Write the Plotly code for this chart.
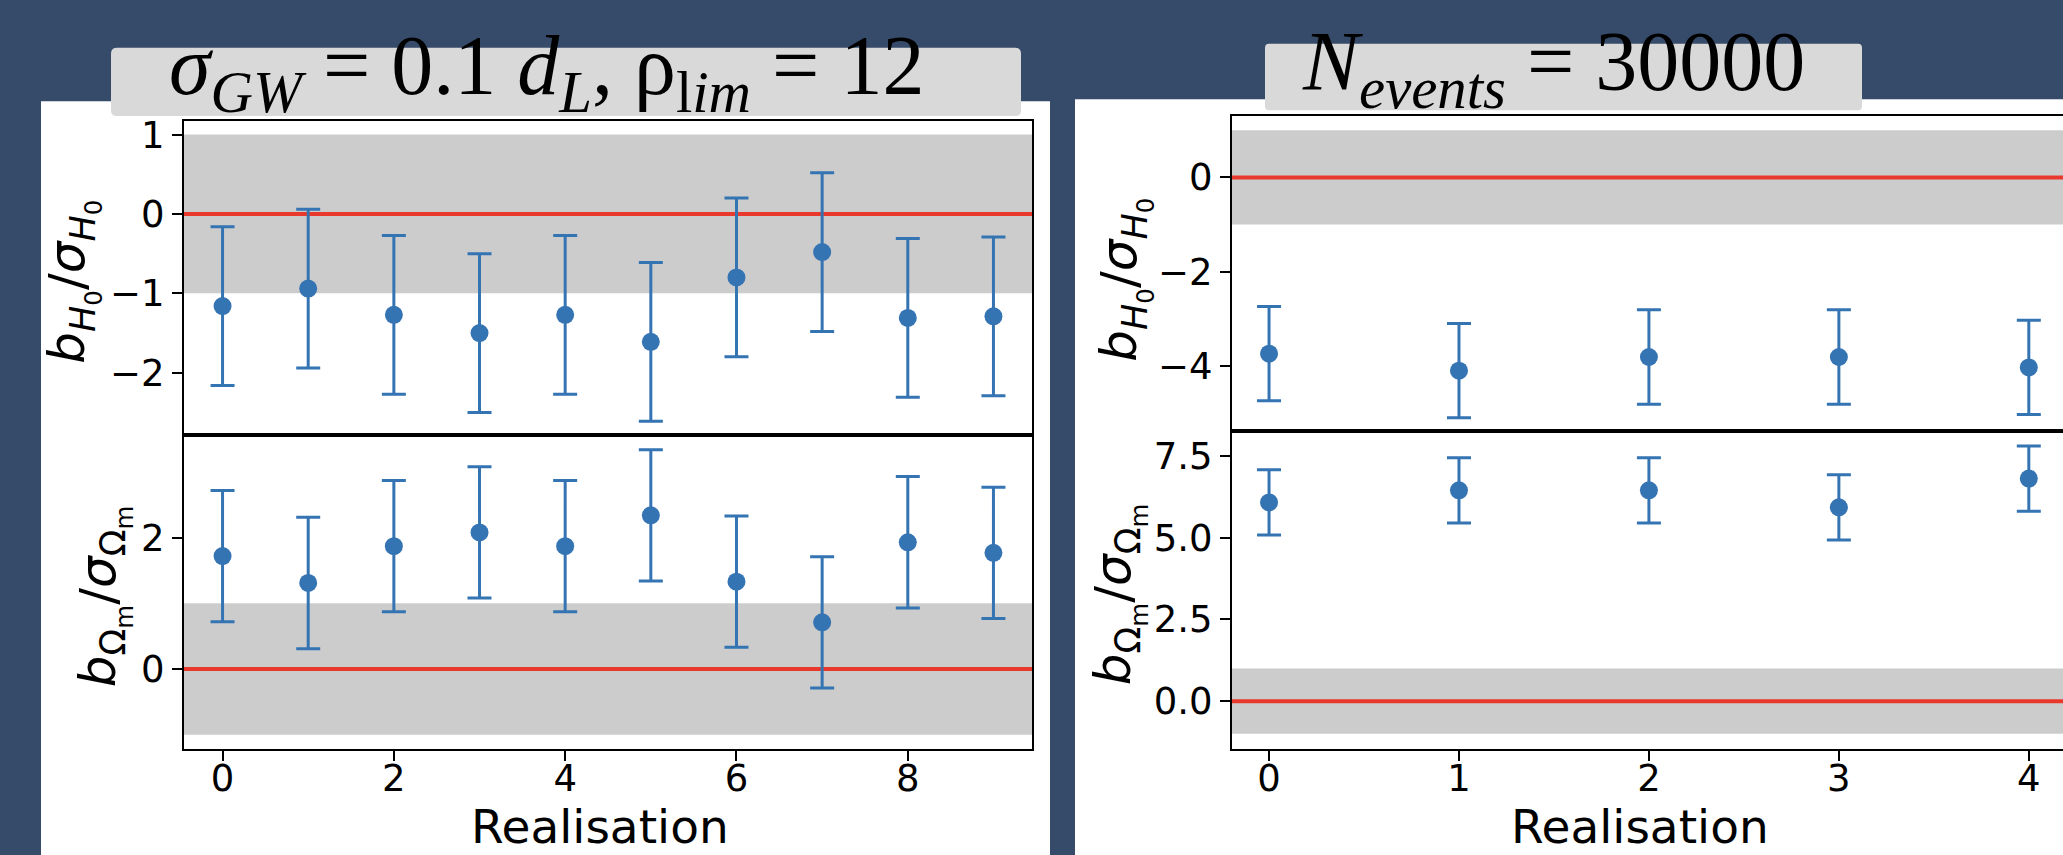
import plotly.graph_objects as go

# ---------------- data ----------------
realisation_left = [0, 1, 2, 3, 4, 5, 6, 7, 8, 9]
bH0_left = [-1.16, -0.94, -1.27, -1.50, -1.27, -1.61, -0.80, -0.48, -1.31, -1.29]
bH0_left_err = [1.0, 1.0, 1.0, 1.0, 1.0, 1.0, 1.0, 1.0, 1.0, 1.0]
bOm_left = [1.72, 1.31, 1.87, 2.08, 1.87, 2.34, 1.33, 0.71, 1.93, 1.77]
bOm_left_err = [1.0, 1.0, 1.0, 1.0, 1.0, 1.0, 1.0, 1.0, 1.0, 1.0]

realisation_right = [0, 1, 2, 3, 4]
bH0_right = [-3.74, -4.10, -3.81, -3.81, -4.03]
bH0_right_err = [1.0, 1.0, 1.0, 1.0, 1.0]
bOm_right = [6.08, 6.45, 6.45, 5.93, 6.81]
bOm_right_err = [1.0, 1.0, 1.0, 1.0, 1.0]

band_low, band_high = -1, 1
ref_value = 0

left_title = "<i>σ</i><sub><i>GW</i></sub> = 0.1 <i>d</i><sub><i>L</i></sub>, ρ<sub>l<i>im</i></sub> = 12"
right_title = "<i>N</i><sub><i>events</i></sub> = 30000"
xlabel = "Realisation"
ylabel_H0 = "<i>b</i><sub><i>H</i><sub>0</sub></sub>/<i>σ</i><sub><i>H</i><sub>0</sub></sub>"
ylabel_Om = "<i>b</i><sub>Ω<sub>m</sub></sub>/<i>σ</i><sub>Ω<sub>m</sub></sub>"

# ---------------- style ----------------
W, H = 2063, 855
NAVY = "#364A6A"
BLUE = "#3574B3"
RED = "#E8392C"
GRAY = "#CCCCCC"
BOX = "#D9D9D9"
TICKFONT = dict(family="DejaVu Sans", size=37, color="black")


def px(x):
    return x / W


def py(y):
    return 1 - y / H


fig = go.Figure()

panels = [
    ("x", "y", realisation_left, bH0_left, bH0_left_err),
    ("x2", "y2", realisation_left, bOm_left, bOm_left_err),
    ("x3", "y3", realisation_right, bH0_right, bH0_right_err),
    ("x4", "y4", realisation_right, bOm_right, bOm_right_err),
]
for xa, ya, xs, ys, es in panels:
    fig.add_trace(go.Scatter(
        x=xs, y=ys, xaxis=xa, yaxis=ya, mode="markers",
        marker=dict(color=BLUE, size=18),
        error_y=dict(type="data", array=es, visible=True, color=BLUE,
                     thickness=3, width=12),
        showlegend=False, cliponaxis=False,
    ))

common_axis = dict(showline=True, linecolor="black", linewidth=2,
                   ticks="outside", ticklen=10, tickwidth=2, tickcolor="black",
                   showgrid=False, zeroline=False, tickfont=TICKFONT)

Lx = [px(184), px(1032)]
Rx = [px(1232), 1.0]
LTy = [py(432), py(115)]
LBy = [py(748), py(432)]
RTy = [py(428), py(110)]
RBy = [py(748), py(428)]

fig.update_layout(
    width=W, height=H,
    margin=dict(l=0, r=0, t=0, b=0),
    paper_bgcolor=NAVY, plot_bgcolor="white",
    xaxis=dict(domain=Lx, range=[-0.45, 9.45], anchor="y",
               showticklabels=False, mirror=True, **{**common_axis, "ticks": ""}),
    yaxis=dict(domain=LTy, range=[-2.79, 1.17], anchor="x", mirror=True,
               tickvals=[-2, -1, 0, 1], **common_axis),
    xaxis2=dict(domain=Lx, range=[-0.45, 9.45], anchor="y2", mirror=True,
                tickvals=[0, 2, 4, 6, 8], ticklabelstandoff=-14, **common_axis),
    yaxis2=dict(domain=LBy, range=[-1.217, 3.557], anchor="x2", mirror=True,
                tickvals=[0, 2], **common_axis),
    xaxis3=dict(domain=Rx, range=[-0.195, 4.18], anchor="y3",
                showticklabels=False, mirror=True, **{**common_axis, "ticks": ""}),
    yaxis3=dict(domain=RTy, range=[-5.39, 1.30], anchor="x3",
                tickvals=[-4, -2, 0], **common_axis),
    xaxis4=dict(domain=Rx, range=[-0.195, 4.18], anchor="y4", mirror=True,
                tickvals=[0, 1, 2, 3, 4], ticklabelstandoff=-14, **common_axis),
    yaxis4=dict(domain=RBy, range=[-1.46, 8.25], anchor="x4",
                tickvals=[0, 2.5, 5, 7.5], tickformat=".1f", **common_axis),
)

shapes = []
shapes.append(dict(type="rect", xref="paper", yref="paper", layer="below",
                   x0=px(41), x1=px(1050), y0=0, y1=py(95),
                   fillcolor="white", line=dict(width=0)))
shapes.append(dict(type="rect", xref="paper", yref="paper", layer="below",
                   x0=px(1075), x1=1.0, y0=0, y1=py(93),
                   fillcolor="white", line=dict(width=0)))
for xa, ya in [("x", "y"), ("x2", "y2"), ("x3", "y3"), ("x4", "y4")]:
    shapes.append(dict(type="rect", xref=f"{xa} domain", yref=ya, layer="below",
                       x0=0, x1=1, y0=band_low, y1=band_high,
                       fillcolor=GRAY, line=dict(width=0)))
    shapes.append(dict(type="line", xref=f"{xa} domain", yref=ya, layer="below",
                       x0=0, x1=1, y0=ref_value, y1=ref_value,
                       line=dict(color=RED, width=4)))


def rounded_box(x0, y0, x1, y1, r):
    X0, X1 = px(x0), px(x1)
    Y0, Y1 = py(y1), py(y0)
    rx, ry = r / W, r / H
    return (f"M {X0+rx},{Y1} L {X1-rx},{Y1} Q {X1},{Y1} {X1},{Y1-ry} "
            f"L {X1},{Y0+ry} Q {X1},{Y0} {X1-rx},{Y0} L {X0+rx},{Y0} "
            f"Q {X0},{Y0} {X0},{Y0+ry} L {X0},{Y1-ry} Q {X0},{Y1} {X0+rx},{Y1} Z")


shapes.append(dict(type="path", xref="paper", yref="paper", layer="above",
                   path=rounded_box(111, 41, 1021, 110, 6),
                   fillcolor=BOX, line=dict(width=0)))
shapes.append(dict(type="path", xref="paper", yref="paper", layer="above",
                   path=rounded_box(1265, 37, 1862, 104, 4),
                   fillcolor=BOX, line=dict(width=0)))
fig.update_layout(shapes=shapes)

ann = []
TITLEFONT = dict(family="Liberation Serif", size=84, color="black")
ann.append(dict(xref="paper", yref="paper", x=px(546), y=py(66), xanchor="center",
                yanchor="middle", text=left_title, showarrow=False, font=TITLEFONT))
ann.append(dict(xref="paper", yref="paper", x=px(1553), y=py(62), xanchor="center",
                yanchor="middle", text=right_title, showarrow=False, font=TITLEFONT))

LABELFONT = dict(family="DejaVu Sans", size=47, color="black")
YLABELFONT = dict(family="DejaVu Sans", size=50, color="black")
ann.append(dict(xref="paper", yref="paper", x=px(600), y=py(826), xanchor="center",
                yanchor="middle", text=xlabel, showarrow=False, font=LABELFONT))
ann.append(dict(xref="paper", yref="paper", x=px(1640), y=py(826), xanchor="center",
                yanchor="middle", text=xlabel, showarrow=False, font=LABELFONT))
for xc, yc, t in [(73, 277, ylabel_H0), (104, 594, ylabel_Om),
                  (1125, 275, ylabel_H0), (1119, 592, ylabel_Om)]:
    ann.append(dict(xref="paper", yref="paper", x=px(xc), y=py(yc), xanchor="center",
                    yanchor="middle", text=t, textangle=-90, showarrow=False,
                    font=YLABELFONT))
fig.update_layout(annotations=ann)

fig.write_html("out.html")
